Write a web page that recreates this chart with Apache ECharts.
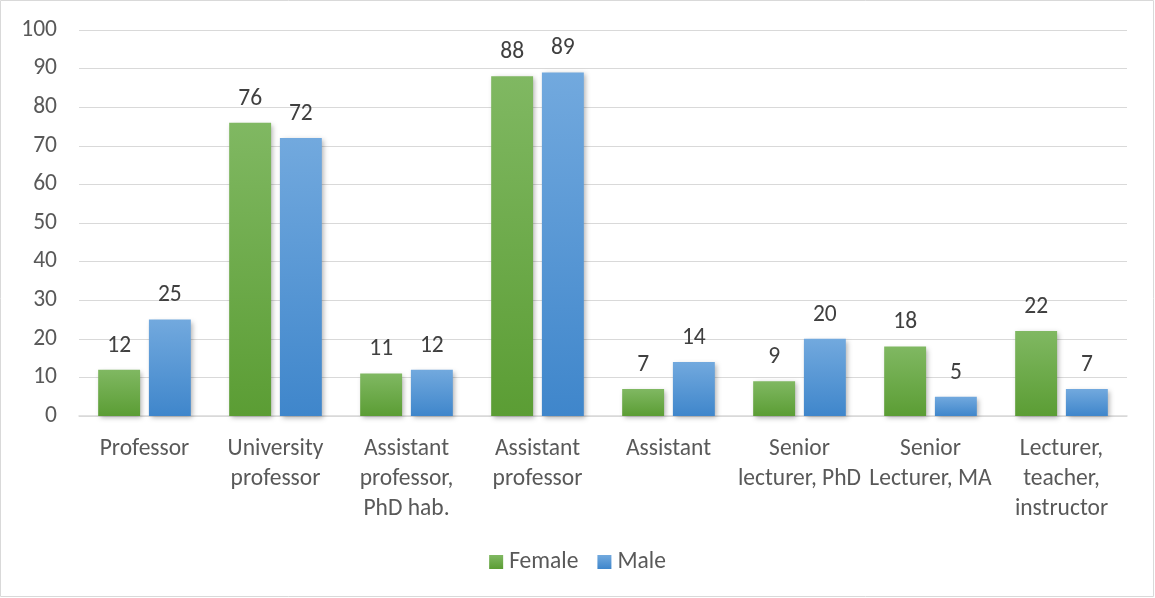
<!DOCTYPE html>
<html><head><meta charset="utf-8">
<script src="https://cdn.jsdelivr.net/npm/echarts@6/dist/echarts.min.js"></script>
<style>html,body{margin:0;padding:0;background:#fff}#c{width:1155px;height:598px}</style>
</head><body><div id="c"></div>
<script>
const categories = ["Professor","University\nprofessor","Assistant\nprofessor,\nPhD hab.","Assistant\nprofessor","Assistant","Senior\nlecturer, PhD","Senior\nLecturer, MA","Lecturer,\nteacher,\ninstructor"];
const female = [12,76,11,88,7,9,18,22];
const male = [25,72,12,89,14,20,5,7];
const yTicks = {min:0,max:100,interval:10};

const font = "Carlito, 'Open Sans', 'Liberation Sans', sans-serif";
const txt = '#595959';
function grad(top,bottom){return new echarts.graphic.LinearGradient(0,0,0,1,[{offset:0,color:top},{offset:1,color:bottom}]);}
const chart = echarts.init(document.getElementById('c'));
const lbl = {show:true,position:'top',distance:12,color:'#404040',fontSize:23.5,fontFamily:font};
const shadow = {shadowBlur:5,shadowOffsetX:2,shadowOffsetY:2,shadowColor:'rgba(0,0,0,0.3)'};
chart.setOption({
  animation:false,
  graphic:[{type:'rect',shape:{x:0.5,y:0.5,width:1153,height:596},style:{fill:'none',stroke:'#d9d9d9',lineWidth:1}}],
  grid:{left:79,right:28,top:30,bottom:182},
  legend:{top:545,left:'center',itemWidth:14,itemHeight:14,itemGap:19,icon:'rect',
    textStyle:{color:txt,fontSize:23.5,fontFamily:font,padding:[0,0,0,1]},data:['Female','Male']},
  xAxis:{type:'category',data:categories,
    axisLine:{lineStyle:{color:'#d9d9d9',width:1.5}},axisTick:{show:false},
    axisLabel:{color:txt,fontSize:23.5,fontFamily:font,lineHeight:30,margin:18,interval:0}},
  yAxis:{type:'value',min:yTicks.min,max:yTicks.max,interval:yTicks.interval,
    axisLine:{show:false},axisTick:{show:false},
    splitLine:{lineStyle:{color:'#d9d9d9',width:1}},
    axisLabel:{color:txt,fontSize:23.5,fontFamily:font,margin:22}},
  series:[
    {name:'Female',type:'bar',data:female,barWidth:'32%',barGap:'21%',
     itemStyle:Object.assign({color:grad('#80b862','#5b9d34')},shadow),label:lbl},
    {name:'Male',type:'bar',data:male,barWidth:'32%',
     itemStyle:Object.assign({color:grad('#72a9de','#3f86cb')},shadow),label:lbl}
  ]
});
</script></body></html>
